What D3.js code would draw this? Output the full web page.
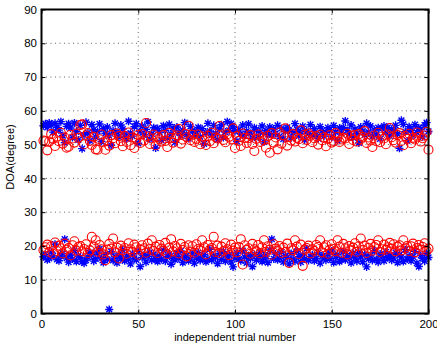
<!DOCTYPE html>
<html>
<head>
<meta charset="utf-8">
<script src="https://cdn.jsdelivr.net/npm/d3@7"></script>
<style>
    body { margin: 0; background: #fff; }
    svg { display: block; font-family: "Liberation Sans", Arial, Helvetica, sans-serif; }
</style>
</head>
<body>
<svg id="chart"></svg>
<script>
// estimated DOA per trial (trial 1..200)
var blueHigh = [
    55.6, 56.2, 55.1, 56.4, 55.8, 53.7, 56.3, 55.1, 54.3, 56.8, 52.7, 50.6, 55.4, 56.2, 54.9, 52.1, 56.4, 53.8, 51.4, 55.7,
    48.8, 52.8, 56.6, 53.5, 51.2, 55.9, 54.4, 52.3, 53.9, 56.1, 50.9, 54.7, 53.3, 55.2, 52.6, 49.8, 54.1, 56.3, 53.6, 52.2,
    55.8, 54.6, 53.0, 51.7, 56.9, 53.4, 52.5, 55.3, 56.2, 50.4, 53.9, 55.5, 52.9, 54.5, 56.7, 51.6, 53.2, 55.0, 49.0, 54.8,
    53.7, 51.3, 55.6, 54.2, 52.0, 56.0, 53.1, 54.9, 50.7, 55.2, 53.6, 52.7, 54.3, 56.5, 53.0, 51.8, 55.4, 54.1, 52.6, 53.8,
    55.1, 52.3, 54.7, 50.2, 53.5, 56.3, 54.0, 52.8, 55.7, 53.3, 51.5, 54.6, 55.9, 52.1, 53.7, 56.8, 54.2, 56.2, 55.3, 53.9,
    51.0, 54.4, 53.1, 55.8, 52.7, 54.0, 56.1, 53.4, 51.9, 55.0, 54.3, 52.2, 53.6, 55.5, 50.8, 54.1, 53.0, 55.2, 52.9, 54.6,
    53.3, 55.7, 52.4, 54.8, 51.6, 53.9, 55.1, 54.2, 52.0, 53.5, 56.2, 54.5, 52.6, 53.8, 55.4, 51.4, 54.0, 53.2, 55.9, 52.8,
    54.7, 53.0, 51.8, 55.3, 54.1, 52.5, 53.6, 55.0, 54.4, 52.3, 55.6, 53.7, 51.2, 54.9, 53.4, 55.0, 57.0, 54.2, 53.1, 55.8,
    52.1, 54.6, 53.3, 50.5, 55.2, 54.0, 52.9, 56.3, 53.7, 55.5, 52.4, 54.3, 53.0, 55.0, 51.7, 54.8, 55.5, 53.5, 55.1, 52.6,
    54.5, 54.1, 55.7, 53.2, 48.9, 57.2, 56.0, 53.8, 51.1, 55.3, 54.2, 52.8, 55.9, 53.6, 55.0, 54.4, 52.3, 55.8, 56.5, 53.9
];
var redHigh = [
    51.2, 51.0, 48.3, 50.9, 53.1, 51.7, 49.6, 52.4, 51.0, 53.5, 50.3, 52.1, 49.1, 49.4, 52.9, 51.8, 50.6, 53.2, 52.0, 55.8,
    56.0, 50.1, 52.7, 53.4, 51.1, 49.9, 52.3, 48.6, 48.5, 51.6, 53.0, 50.7, 48.5, 51.3, 49.7, 52.8, 51.9, 50.4, 53.3, 52.5,
    51.0, 49.5, 52.6, 50.8, 53.6, 49.8, 52.1, 49.0, 51.7, 52.9, 50.5, 53.1, 51.2, 56.4, 52.4, 50.2, 51.8, 53.0, 49.8, 52.3,
    51.6, 50.9, 52.8, 51.1, 49.3, 53.4, 52.0, 50.6, 51.9, 52.7, 54.6, 50.3, 51.5, 53.2, 52.2, 55.6, 51.3, 52.9, 50.8, 51.7,
    53.0, 50.1, 52.4, 51.2, 49.9, 52.6, 51.0, 53.5, 50.4, 52.1, 51.8, 55.5, 52.7, 51.4, 50.7, 53.1, 52.3, 51.6, 54.8, 49.0,
    52.5, 51.1, 49.6, 53.3, 52.0, 50.5, 51.9, 52.8, 50.2, 48.1, 51.7, 53.0, 50.8, 52.2, 51.3, 49.1, 52.6, 47.6, 53.4, 50.6,
    52.1, 48.6, 53.6, 50.3, 52.7, 54.8, 49.7, 52.4, 51.2, 53.1, 50.9, 52.0, 51.6, 54.2, 50.4, 52.9, 51.4, 53.3, 52.6, 50.7,
    51.9, 52.5, 50.0, 53.0, 51.3, 52.2, 49.5, 51.7, 52.8, 50.6, 51.1, 53.4, 52.3, 50.8, 51.5, 52.0, 51.8, 53.2, 50.2, 52.6,
    51.4, 52.9, 50.9, 53.1, 51.6, 52.3, 54.0, 50.5, 52.1, 51.2, 49.3, 52.7, 51.0, 53.5, 50.7, 52.4, 51.8, 50.1, 53.0, 54.9,
    52.2, 51.3, 50.6, 52.8, 53.4, 51.1, 49.8, 52.5, 51.7, 53.2, 50.4, 52.0, 51.5, 53.6, 52.3, 50.9, 51.9, 52.7, 53.8, 48.5
];
var blueLow = [
    16.8, 17.5, 15.9, 16.3, 18.2, 17.1, 20.5, 16.0, 15.6, 16.9, 17.8, 22.0, 16.4, 15.2, 17.3, 16.1, 18.6, 15.4, 17.0, 16.6,
    15.3, 14.9, 15.8, 16.7, 18.0, 17.4, 15.5, 16.2, 17.9, 19.1, 16.5, 15.1, 17.6, 16.0, 1.2, 18.3, 15.7, 16.8, 15.0, 17.2,
    16.4, 18.8, 15.6, 17.0, 16.1, 14.7, 17.7, 16.3, 15.9, 18.4, 13.9, 16.6, 17.3, 15.2, 16.9, 18.1, 15.8, 17.5, 16.2, 15.4,
    17.1, 16.0, 18.7, 15.5, 16.8, 17.6, 14.6, 16.3, 15.9, 17.9, 16.4, 18.5, 15.1, 16.7, 17.2, 15.6, 16.1, 17.8, 14.9, 16.5,
    18.0, 15.7, 16.9, 17.4, 15.3, 16.2, 19.0, 15.8, 17.1, 16.6, 14.8, 17.7, 16.0, 18.3, 15.5, 16.8, 17.3, 15.2, 13.8, 16.4,
    17.9, 16.1, 15.6, 18.6, 16.7, 15.0, 17.2, 16.3, 13.9, 17.5, 15.8, 16.9, 18.1, 15.4, 16.5, 17.0, 15.1, 18.8, 22.0, 16.2,
    17.6, 15.9, 16.4, 18.2, 15.3, 17.1, 16.6, 14.7, 17.8, 16.0, 15.5, 18.4, 16.8, 15.2, 17.3, 16.1, 19.2, 15.7, 16.9, 17.4,
    15.6, 16.3, 18.0, 14.9, 17.0, 16.5, 15.8, 17.7, 16.2, 18.5, 15.1, 16.7, 17.4, 15.4, 16.0, 18.3, 15.9, 17.2, 16.6, 15.0,
    17.9, 16.4, 15.5, 18.1, 16.8, 15.3, 17.5, 13.8, 16.2, 17.1, 15.7, 18.6, 16.0, 15.2, 17.6, 16.9, 15.6, 18.2, 16.5, 17.3,
    15.8, 16.4, 18.0, 15.1, 17.4, 16.7, 15.4, 18.9, 16.1, 17.0, 15.6, 16.8, 18.4, 14.9, 13.9, 17.2, 16.3, 15.5, 17.8, 16.6
];
var redLow = [
    18.8, 19.6, 20.4, 18.2, 19.9, 17.6, 21.0, 18.5, 20.1, 19.3, 17.8, 20.7, 18.9, 19.4, 17.2, 20.2, 21.4, 18.6, 19.7, 20.0,
    18.4, 19.1, 20.5, 17.9, 18.7, 22.7, 19.8, 21.7, 18.3, 20.3, 19.0, 17.5, 15.8, 18.9, 20.6, 19.2, 22.2, 18.1, 19.5, 16.3,
    20.1, 18.7, 19.4, 17.7, 20.8, 19.0, 18.2, 20.4, 19.6, 17.4, 18.9, 20.2, 19.3, 18.0, 20.7, 19.1, 21.7, 18.5, 19.8, 17.9,
    20.3, 19.2, 18.6, 20.9, 17.6, 19.5, 22.0, 18.4, 20.0, 19.3, 17.8, 20.6, 18.8, 19.7, 16.9, 20.2, 18.3, 19.9, 18.0, 20.5,
    19.1, 18.7, 21.7, 19.6, 17.5, 20.3, 18.9, 19.4, 22.7, 18.2, 20.1, 17.9, 19.8, 18.5, 20.8, 19.0, 17.3, 20.4, 18.6, 19.5,
    18.1, 19.7, 22.0, 14.5, 20.2, 18.8, 19.3, 17.7, 20.6, 19.0, 18.4, 20.3, 17.8, 19.6, 21.7, 18.3, 19.9, 18.9, 17.4, 20.5,
    19.2, 18.6, 20.0, 17.9, 19.5, 18.2, 20.7, 15.0, 19.3, 18.7, 21.7, 19.8, 17.6, 20.4, 14.1, 18.9, 19.4, 20.1, 17.8, 19.0,
    18.5, 20.3, 19.7, 21.7, 18.1, 19.6, 20.2, 17.7, 18.9, 20.5, 19.1, 18.4, 21.7, 19.8, 18.0, 20.6, 19.3, 17.5, 20.0, 18.7,
    19.5, 20.8, 18.3, 19.9, 22.2, 18.8, 20.1, 17.9, 19.4, 20.6, 18.6, 19.7, 20.3, 21.7, 18.2, 19.0, 20.4, 18.9, 19.6, 20.9,
    19.2, 20.5, 18.4, 19.8, 20.2, 18.7, 21.7, 19.3, 20.0, 18.5, 19.9, 20.7, 18.1, 19.4, 20.3, 18.9, 19.7, 20.8, 18.6, 19.2
];
var xTicks = [0, 50, 100, 150, 200];
var yTicks = [0, 10, 20, 30, 40, 50, 60, 70, 80, 90];

var width = 437, height = 350;
var margin = {top: 9.5, right: 8.5, bottom: 36.5, left: 41.5};

var svg = d3.select("#chart").attr("width", width).attr("height", height);

var x = d3.scaleLinear().domain([0, 200]).range([margin.left, width - margin.right]);
var y = d3.scaleLinear().domain([0, 90]).range([height - margin.bottom, margin.top]);

// dotted grid
var grid = svg.append("g").attr("class", "grid")
    .style("stroke", "#666").style("stroke-width", 1).style("stroke-dasharray", "1,3.5");
grid.selectAll(".gx").data(xTicks.slice(1, -1)).enter().append("line")
    .attr("x1", function (d) { return x(d); }).attr("x2", function (d) { return x(d); })
    .attr("y1", y(90)).attr("y2", y(0));
grid.selectAll(".gy").data(yTicks.slice(1, -1)).enter().append("line")
    .attr("y1", function (d) { return y(d); }).attr("y2", function (d) { return y(d); })
    .attr("x1", x(0)).attr("x2", x(200));

// markers
var star = "M-4,0H4M0,-4V4M-2.9,-2.9L2.9,2.9M-2.9,2.9L2.9,-2.9";
var trials = d3.range(1, 201);

function drawStars(values) {
    svg.append("g").selectAll("path").data(values).enter().append("path")
        .attr("d", star)
        .attr("transform", function (d, i) { return "translate(" + x(trials[i]) + "," + y(d) + ")"; })
        .style("stroke", "#0000ff").style("stroke-width", 1.4).style("fill", "none");
}
function drawCircles(values) {
    svg.append("g").selectAll("circle").data(values).enter().append("circle")
        .attr("cx", function (d, i) { return x(trials[i]); })
        .attr("cy", function (d) { return y(d); })
        .attr("r", 4.5)
        .style("stroke", "#ff0000").style("stroke-width", 1.1).style("fill", "none");
}
drawStars(blueHigh);
drawStars(blueLow);
drawCircles(redHigh);
drawCircles(redLow);

// axes, ticks pointing inward like matlab
function styleAxis(g) {
    g.selectAll(".domain").remove();
    g.selectAll("line").style("stroke", "#000").style("stroke-width", 1);
    g.selectAll("text").style("font-size", "11.5px").style("fill", "#000");
}
svg.append("g").attr("transform", "translate(0," + y(0) + ")")
    .call(d3.axisBottom(x).tickValues(xTicks).tickSizeInner(-4).tickSizeOuter(0).tickPadding(6.5))
    .call(styleAxis);
svg.append("g").attr("transform", "translate(" + x(0) + ",0)")
    .call(d3.axisLeft(y).tickValues(yTicks).tickSizeInner(-4).tickSizeOuter(0).tickPadding(4.5))
    .call(styleAxis);
svg.append("g").attr("transform", "translate(0," + y(90) + ")")
    .call(d3.axisTop(x).tickValues(xTicks).tickSizeInner(-4).tickSizeOuter(0).tickFormat(""))
    .call(styleAxis);
svg.append("g").attr("transform", "translate(" + x(200) + ",0)")
    .call(d3.axisRight(y).tickValues(yTicks).tickSizeInner(-4).tickSizeOuter(0).tickFormat(""))
    .call(styleAxis);

svg.append("rect")
    .attr("x", x(0)).attr("y", y(90))
    .attr("width", x(200) - x(0)).attr("height", y(0) - y(90))
    .style("fill", "none").style("stroke", "#000").style("stroke-width", 2);

// labels
svg.append("text")
    .attr("x", (x(0) + x(200)) / 2).attr("y", 340.5)
    .attr("text-anchor", "middle").style("font-size", "11px")
    .text("independent trial number");
svg.append("text")
    .attr("transform", "translate(13.5," + 157 + ") rotate(-90)")
    .attr("text-anchor", "middle").style("font-size", "11px")
    .text("DOA(degree)");
</script>
</body>
</html>
